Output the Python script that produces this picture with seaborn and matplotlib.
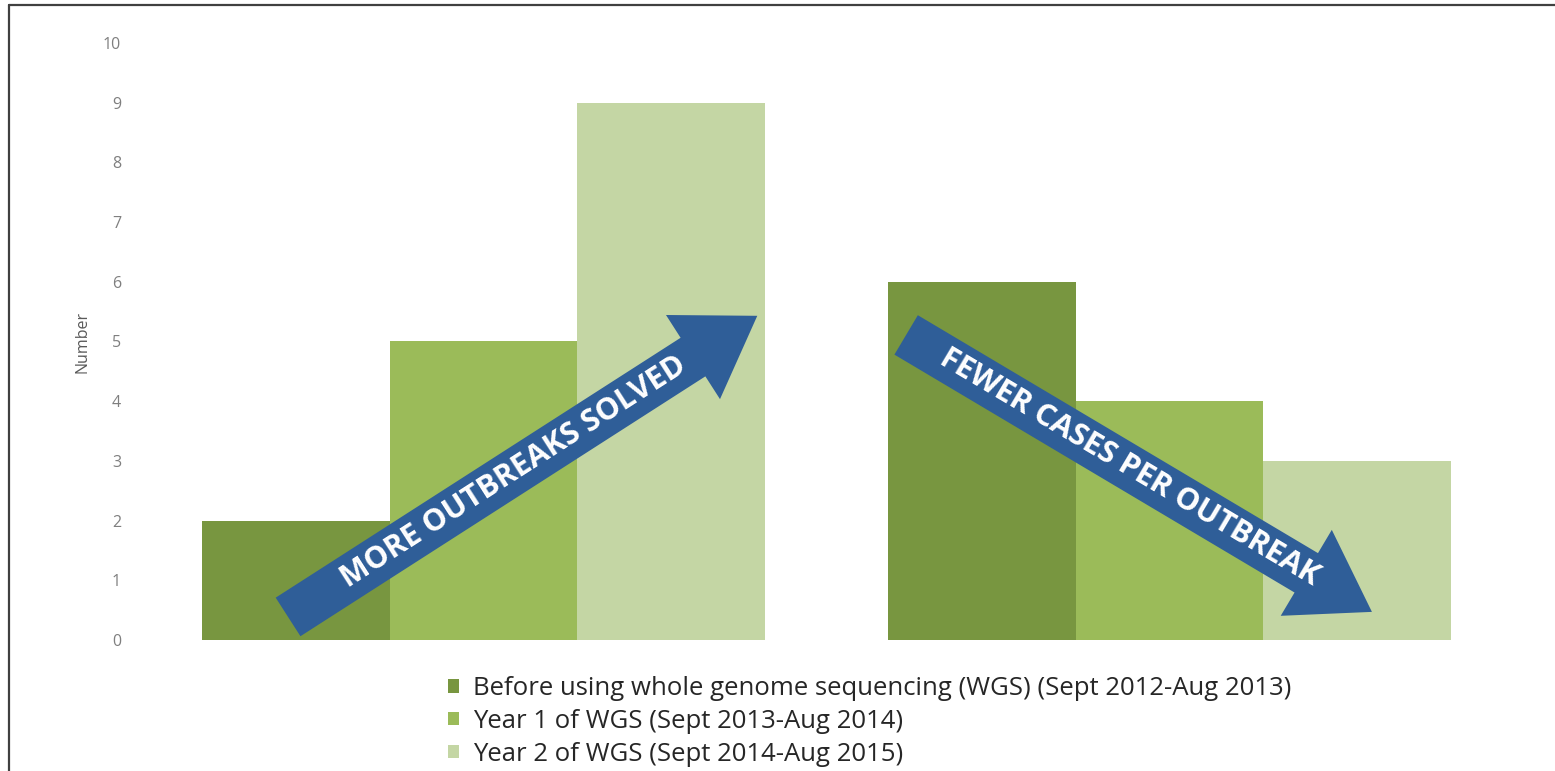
import numpy as np
import pandas as pd
import matplotlib
matplotlib.use("Agg")
import matplotlib.pyplot as plt
import seaborn as sns
from matplotlib.patches import FancyArrowPatch, ArrowStyle
from matplotlib.lines import Line2D

# Data
groups = ["Outbreaks solved", "Cases per outbreak"]
periods = [
    "Before using whole genome sequencing (WGS) (Sept 2012-Aug 2013)",
    "Year 1 of WGS (Sept 2013-Aug 2014)",
    "Year 2 of WGS (Sept 2014-Aug 2015)",
]
before_wgs = [2, 6]
year1_wgs = [5, 4]
year2_wgs = [9, 3]
y_ticks = list(range(0, 11))

bar_colors = ["#789640", "#9BBB59", "#C4D6A4"]
arrow_color = "#2F5E98"

df = pd.DataFrame({
    "group": groups * 3,
    "period": np.repeat(periods, len(groups)),
    "value": before_wgs + year1_wgs + year2_wgs,
})

sns.set_theme(style="white")
plt.rcParams["font.family"] = ["Open Sans", "DejaVu Sans"]

fig, ax = plt.subplots(figsize=(15.55, 7.71), dpi=100)
fig.subplots_adjust(left=0.0904, right=0.9727, bottom=0.170, top=0.9442)

sns.barplot(data=df, x="group", y="value", hue="period", order=groups,
            hue_order=periods, palette=bar_colors, saturation=1, width=0.82,
            linewidth=0, ax=ax)

ax.set_xlim(-0.5, 1.5)
ax.set_ylim(0, 10)
ax.set_yticks(y_ticks)
ax.set_xticks([])
ax.set_xlabel("")
ax.tick_params(axis="y", length=0, labelsize=11.5, labelcolor="#7f7f7f", pad=14)
ax.set_ylabel("Number", fontsize=11.5, color="#595959", labelpad=9)
sns.despine(ax=ax, left=True, bottom=True)

# legend under the plot
handles, labels = ax.get_legend_handles_labels()
ax.get_legend().remove()
fig.legend(handles, labels, loc="upper left", bbox_to_anchor=(0.2881, 0.123),
           frameon=False, fontsize=18.5, handlelength=0.42, handleheight=0.42,
           handletextpad=0.55, labelspacing=0.3, borderpad=0, borderaxespad=0,
           labelcolor="#262626")


def draw_arrow(start, end, label, frac=0.48):
    style = ArrowStyle.Simple(head_length=0.55, head_width=0.72, tail_width=0.33)
    arrow = FancyArrowPatch(start, end, arrowstyle=style, mutation_scale=100,
                            color=arrow_color, lw=0, shrinkA=0, shrinkB=0,
                            zorder=5)
    ax.add_patch(arrow)
    p0 = ax.transData.transform(start)
    p1 = ax.transData.transform(end)
    angle = np.degrees(np.arctan2(p1[1] - p0[1], p1[0] - p0[0]))
    tx, ty = ax.transData.inverted().transform(p0 + (p1 - p0) * frac)
    ax.text(tx, ty, label, rotation=angle, rotation_mode="anchor",
            ha="center", va="center", color="white", fontsize=22,
            fontweight="bold", zorder=6)


draw_arrow((-0.285, 0.385), (0.399, 5.43), "MORE OUTBREAKS SOLVED")
draw_arrow((0.616, 5.11), (1.295, 0.47), "FEWER CASES PER OUTBREAK")

# picture frame (top and left edges)
fig.add_artist(Line2D([0.006, 1.0], [0.9935, 0.9935], transform=fig.transFigure,
                      color="#404040", lw=1.6))
fig.add_artist(Line2D([0.006, 0.006], [0.0, 0.9935], transform=fig.transFigure,
                      color="#404040", lw=1.6))

fig.savefig("out.png", dpi=100)
